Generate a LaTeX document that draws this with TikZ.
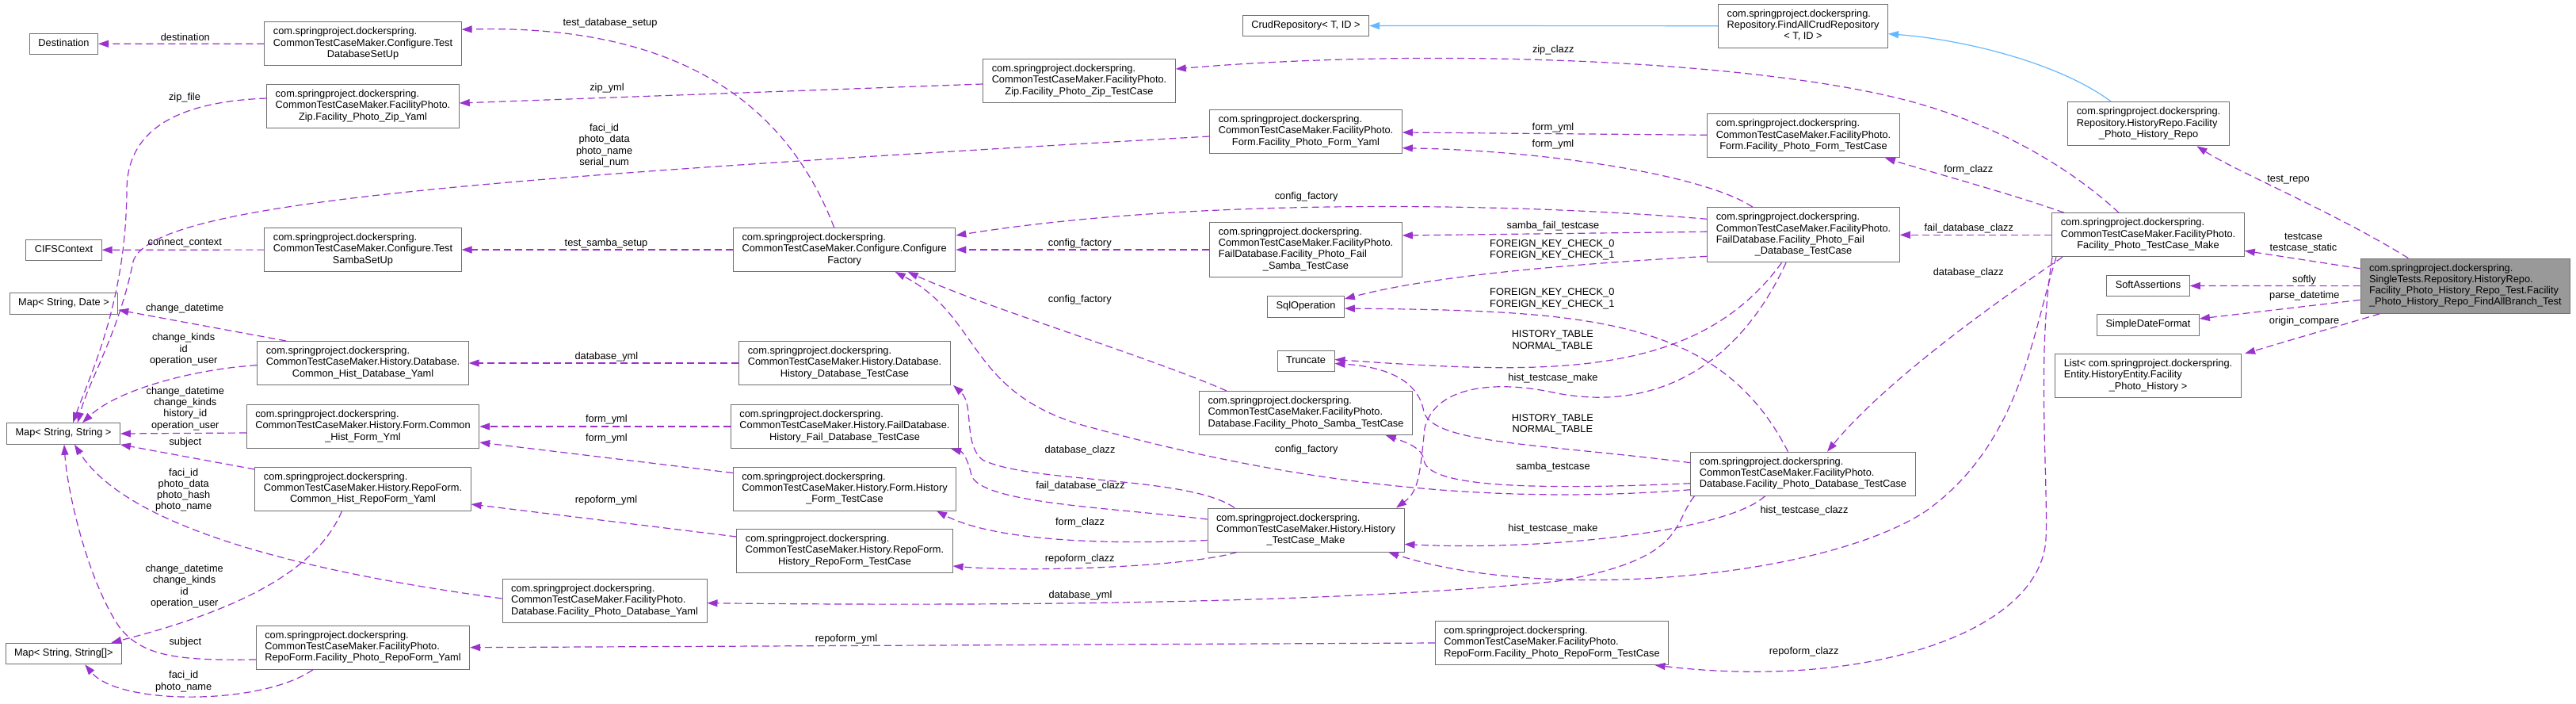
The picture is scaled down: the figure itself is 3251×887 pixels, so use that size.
\documentclass[tikz,border=0pt]{standalone}
\usepackage{fontspec}
\setmainfont{Liberation Sans}
\usepackage{tikz}
\usepackage{xcolor}
\usetikzlibrary{arrows.meta}
\definecolor{depline}{HTML}{9A32CD}
\definecolor{inhline}{HTML}{63B8FF}
\definecolor{boxline}{HTML}{707070}
\definecolor{mainfill}{HTML}{999999}
\newcommand{\diagfont}{\fontsize{12.8}{14.2}\selectfont}
\newcommand{\clsiii}[3]{\begin{tabular}{@{}l@{}}#1\\#2\\\multicolumn{1}{@{}c@{}}{#3}\end{tabular}}
\newcommand{\clsiv}[4]{\begin{tabular}{@{}l@{}}#1\\#2\\#3\\\multicolumn{1}{@{}c@{}}{#4}\end{tabular}}
\newcommand{\pkg}{com.springproject.dockerspring.}

\begin{document}
\begin{tikzpicture}[x=1pt, y=-1pt,
  cls/.style={draw=boxline, line width=1pt, fill=white, inner xsep=11pt, inner ysep=6.2pt, font=\diagfont},
  leaf/.style={cls, execute at begin node=\strut},
  focus/.style={cls, fill=mainfill},
  lbl/.style={font=\diagfont, align=center, inner sep=0pt},
  dep/.style={draw=depline, line width=1.2pt, dash pattern=on 9pt off 5pt, -{Triangle[length=13pt,width=9pt]}},
  inh/.style={draw=inhline, line width=1.2pt, -{Triangle[length=13pt,width=9pt]}}
]
\useasboundingbox (0,0) rectangle (3251,887);

\node[leaf] (dest) at (80.5,55.3) {Destination};
\node[cls] (dbsetup) at (458,55.2) {\clsiii{\pkg}{CommonTestCaseMaker.Configure.Test}{DatabaseSetUp}};
\node[cls] (zipyaml) at (458,134) {\clsiii{\pkg}{CommonTestCaseMaker.FacilityPhoto.}{Zip.Facility\_Photo\_Zip\_Yaml}};
\node[leaf] (cifs) at (80.5,315.3) {CIFSContext};
\node[cls] (sambasetup) at (458,315) {\clsiii{\pkg}{CommonTestCaseMaker.Configure.Test}{SambaSetUp}};
\node[leaf] (mapdate) at (80.5,383) {Map< String, Date >};
\node[cls] (histdbyaml) at (458,458) {\clsiii{\pkg}{CommonTestCaseMaker.History.Database.}{Common\_Hist\_Database\_Yaml}};
\node[cls] (histformyml) at (458,538) {\clsiii{\pkg}{CommonTestCaseMaker.History.Form.Common}{\_Hist\_Form\_Yml}};
\node[leaf] (mapstr) at (80,547) {Map< String, String >};
\node[cls] (histrepoyaml) at (458,616.5) {\clsiii{\pkg}{CommonTestCaseMaker.History.RepoForm.}{Common\_Hist\_RepoForm\_Yaml}};
\node[leaf] (maparr) at (80.3,824.5) {Map< String, String[]>};
\node[cls] (reporyaml) at (458,816.7) {\clsiii{\pkg}{CommonTestCaseMaker.FacilityPhoto.}{RepoForm.Facility\_Photo\_RepoForm\_Yaml}};
\node[cls] (dbyaml) at (763,758) {\clsiii{\pkg}{CommonTestCaseMaker.FacilityPhoto.}{Database.Facility\_Photo\_Database\_Yaml}};

\node[cls] (ziptest) at (1362,102) {\clsiii{\pkg}{CommonTestCaseMaker.FacilityPhoto.}{Zip.Facility\_Photo\_Zip\_TestCase}};
\node[cls] (factory) at (1065.7,315) {\clsiii{\pkg}{CommonTestCaseMaker.Configure.Configure}{Factory}};
\node[cls] (histdbtest) at (1066,458) {\clsiii{\pkg}{CommonTestCaseMaker.History.Database.}{History\_Database\_TestCase}};
\node[cls] (histfailtest) at (1066,538) {\clsiii{\pkg}{CommonTestCaseMaker.History.FailDatabase.}{History\_Fail\_Database\_TestCase}};
\node[cls] (histformtest) at (1066,616.5) {\clsiii{\pkg}{CommonTestCaseMaker.History.Form.History}{\_Form\_TestCase}};
\node[cls] (histrepotest) at (1066,695) {\clsiii{\pkg}{CommonTestCaseMaker.History.RepoForm.}{History\_RepoForm\_TestCase}};

\node[leaf] (crud) at (1648,32.5) {CrudRepository< T, ID >};
\node[cls] (formyaml) at (1648,166) {\clsiii{\pkg}{CommonTestCaseMaker.FacilityPhoto.}{Form.Facility\_Photo\_Form\_Yaml}};
\node[cls] (failsamba) at (1648,315) {\clsiv{\pkg}{CommonTestCaseMaker.FacilityPhoto.}{FailDatabase.Facility\_Photo\_Fail}{\_Samba\_TestCase}};
\node[leaf] (sqlop) at (1648,387) {SqlOperation};
\node[leaf] (truncate) at (1648,455.5) {Truncate};
\node[cls] (sambatest) at (1648,521) {\clsiii{\pkg}{CommonTestCaseMaker.FacilityPhoto.}{Database.Facility\_Photo\_Samba\_TestCase}};
\node[cls] (histmake) at (1648,668.5) {\clsiii{\pkg}{CommonTestCaseMaker.History.History}{\_TestCase\_Make}};
\node[cls] (repotest) at (1958.5,811) {\clsiii{\pkg}{CommonTestCaseMaker.FacilityPhoto.}{RepoForm.Facility\_Photo\_RepoForm\_TestCase}};

\node[cls] (findall) at (2275.5,32.7) {\clsiii{\pkg}{Repository.FindAllCrudRepository}{< T, ID >}};
\node[cls] (formtest) at (2276,171.3) {\clsiii{\pkg}{CommonTestCaseMaker.FacilityPhoto.}{Form.Facility\_Photo\_Form\_TestCase}};
\node[cls] (faildbtest) at (2276,296.3) {\clsiv{\pkg}{CommonTestCaseMaker.FacilityPhoto.}{FailDatabase.Facility\_Photo\_Fail}{\_Database\_TestCase}};
\node[cls] (dbtest) at (2275.5,597.7) {\clsiii{\pkg}{CommonTestCaseMaker.FacilityPhoto.}{Database.Facility\_Photo\_Database\_TestCase}};

\node[cls] (historyrepo) at (2711.5,156.3) {\clsiii{\pkg}{Repository.HistoryRepo.Facility}{\_Photo\_History\_Repo}};
\node[cls] (testmake) at (2711,296.3) {\clsiii{\pkg}{CommonTestCaseMaker.FacilityPhoto.}{Facility\_Photo\_TestCase\_Make}};
\node[leaf] (softly) at (2711,360.5) {SoftAssertions};
\node[leaf] (dateformat) at (2711,410) {SimpleDateFormat};
\node[cls] (originlist) at (2711,474) {\clsiii{List< \pkg}{Entity.HistoryEntity.Facility}{\_Photo\_History >}};
\node[focus] (main) at (3111.3,360.7) {\clsiv{\pkg}{SingleTests.Repository.HistoryRepo.}{Facility\_Photo\_History\_Repo\_Test.Facility}{\_Photo\_History\_Repo\_FindAllBranch\_Test}};

\draw[dep] (dbsetup) -- (dest);
\draw[dep] ([xshift=-13pt]factory.north) .. controls (1000,150) and (880,30) .. ([yshift=18pt]dbsetup.east);
\draw[dep] ([yshift=-4pt]ziptest.west) -- ([yshift=4pt]zipyaml.east);
\draw[dep] ([yshift=10pt]zipyaml.west) .. controls (230,128) and (160,160) .. (160,240) .. controls (159,380) and (115,470) .. ([xshift=12pt]mapstr.north);
\draw[dep] ([yshift=-6pt]formyaml.west) .. controls (600,225) and (190,255) .. (168,330) .. controls (150,420) and (112,480) .. ([xshift=18pt]mapstr.north);
\draw[dep] (sambasetup) -- (cifs);
\draw[dep] (factory) -- (sambasetup);
\draw[dep] (failsamba) -- (factory);
\draw[dep] ([yshift=20pt]faildbtest.west) .. controls (1900,255) and (1500,250) .. ([yshift=18pt]factory.east);
\draw[dep] ([yshift=1pt]formtest.west) -- ([yshift=-1pt]formyaml.east);
\draw[dep] ([xshift=-64pt]faildbtest.north) .. controls (2150,220) and (1950,190) .. ([yshift=-20.7pt]formyaml.east);
\draw[dep] ([yshift=4pt]faildbtest.west) -- ([yshift=18pt]failsamba.east);
\draw[dep] ([yshift=-27pt]faildbtest.west) .. controls (1950,335) and (1800,350) .. ([yshift=10pt]sqlop.east);
\draw[dep] ([xshift=-19pt]dbtest.north) .. controls (2170,400) and (2000,392) .. ([yshift=-2pt]sqlop.east);
\draw[dep] ([xshift=-27.5pt]faildbtest.south) .. controls (2140,480) and (1950,472) .. ([yshift=2pt]truncate.east);
\draw[dep] ([yshift=14pt]dbtest.west) .. controls (1950,560) and (1810,560) .. (1797,520) .. controls (1790,475) and (1740,462) .. ([yshift=-3pt]truncate.east);
\draw[dep] ([yshift=-12pt]dbtest.west) .. controls (1900,620) and (1800,610) .. (1797,580) .. controls (1795,565) and (1775,558) .. ([xshift=100.7pt]sambatest.south);
\draw[dep] ([xshift=-48pt]dbtest.south) .. controls (2180,670) and (1950,695) .. ([yshift=-18pt]histmake.east);
\draw[dep] ([xshift=-22pt]faildbtest.south) .. controls (2190,470) and (2080,520) .. (1960,495) .. controls (1880,478) and (1810,490) .. (1798,540) .. controls (1792,600) and (1790,620) .. ([xshift=114pt]histmake.north);
\draw[dep] ([xshift=-116pt]testmake.south) .. controls (2565,420) and (2550,560) .. (2430,645) .. controls (2300,730) and (1950,760) .. ([xshift=104pt]histmake.south);
\draw[dep] ([xshift=-121pt]testmake.south) .. controls (2570,450) and (2585,600) .. (2582,680) .. controls (2575,800) and (2350,870) .. ([xshift=130pt]repotest.south);
\draw[dep] ([xshift=-108pt]testmake.south) .. controls (2520,380) and (2380,480) .. ([xshift=30.5pt]dbtest.north);
\draw[dep] ([xshift=-37pt]testmake.north) .. controls (2600,200) and (2500,150) .. (2400,125) .. controls (2200,75) and (1800,60) .. ([yshift=15pt]ziptest.east);
\draw[dep] ([xshift=-106pt]testmake.north) .. controls (2540,245) and (2430,215) .. ([xshift=103pt]formtest.south);
\draw[dep] (testmake) -- (faildbtest);
\draw[inh] (findall) -- (crud);
\draw[inh] ([xshift=-47pt]historyrepo.north) .. controls (2600,80) and (2480,50) .. ([yshift=-10pt]findall.east);
\draw[dep] ([xshift=-72pt]main.north) .. controls (2950,270) and (2820,215) .. ([xshift=61pt]historyrepo.south);
\draw[dep] ([yshift=22pt]main.west) -- ([yshift=-20pt]testmake.east);
\draw[dep] (main) -- (softly);
\draw[dep] ([yshift=-17.6pt]main.west) -- ([yshift=8pt]dateformat.east);
\draw[dep] ([xshift=-108pt]main.south) -- ([xshift=122pt]originlist.north);

\draw[dep] (histdbtest) -- (histdbyaml);
\draw[dep] (histfailtest) -- (histformyml);
\draw[dep] ([yshift=20pt]histformtest.west) -- ([yshift=-20pt]histformyml.east);
\draw[dep] ([yshift=18pt]histrepotest.west) -- ([yshift=-19.5pt]histrepoyaml.east);
\draw[dep] ([xshift=-87pt]histmake.south) .. controls (1500,715) and (1300,722) .. ([yshift=-19pt]histrepotest.east);
\draw[dep] ([yshift=-13pt]histmake.west) .. controls (1380,688) and (1250,680) .. ([xshift=116pt]histformtest.south);
\draw[dep] ([yshift=13.5pt]histmake.west) .. controls (1400,640) and (1240,635) .. (1226,600) .. controls (1222,580) and (1215,570) .. ([xshift=134pt]histfailtest.south);
\draw[dep] ([xshift=-90pt]histmake.north) .. controls (1500,600) and (1300,610) .. (1240,580) .. controls (1215,560) and (1230,510) .. ([xshift=137pt]histdbtest.south);
\draw[dep] ([yshift=-20pt]dbtest.west) .. controls (1850,640) and (1600,600) .. (1380,540) .. controls (1220,500) and (1240,400) .. ([xshift=64pt]factory.south);
\draw[dep] ([xshift=-100pt]sambatest.north) .. controls (1450,450) and (1250,390) .. ([xshift=80pt]factory.south);
\draw[dep] ([xshift=-137pt]dbtest.south) .. controls (2110,660) and (2130,705) .. (1966,733) .. controls (1700,760) and (1300,765) .. ([yshift=-2.7pt]dbyaml.east);
\draw[dep] (repotest.west) -- (reporyaml.east);
\draw[dep] ([xshift=-97pt]histdbyaml.north) -- ([yshift=-8pt]mapdate.east);
\draw[dep] ([yshift=-2.7pt]histdbyaml.west) .. controls (250,465) and (150,490) .. ([xshift=24pt]mapstr.north);
\draw[dep] ([yshift=-8pt]histformyml.west) -- (mapstr.east);
\draw[dep] ([yshift=24.5pt]histrepoyaml.west) -- (mapstr.south east);
\draw[dep] ([xshift=-26.5pt]histrepoyaml.south) .. controls (400,720) and (300,770) .. ([xshift=60pt]maparr.north);
\draw[dep] ([xshift=-63pt]reporyaml.south) .. controls (330,890) and (150,890) .. ([xshift=27pt]maparr.south);
\draw[dep] ([yshift=-15.3pt]reporyaml.west) .. controls (230,833) and (180,830) .. (150,790) .. controls (110,730) and (85,620) .. ([xshift=1pt]mapstr.south);
\draw[dep] ([yshift=3pt]dbyaml.west) .. controls (450,730) and (170,680) .. ([xshift=14pt]mapstr.south);

\node[lbl] (l1) at (233.8,46.7) {destination};
\node[lbl] (l2) at (770,29) {test\_database\_setup};
\node[lbl] (l3) at (766,111) {zip\_yml};
\node[lbl] (l4) at (233,122.7) {zip\_file};
\node[lbl] (l5) at (762.6,183.7) {faci\_id\\photo\_data\\photo\_name\\serial\_num};
\node[lbl] (l6) at (233.3,306.7) {connect\_context};
\node[lbl] (l7) at (765,306.7) {test\_samba\_setup};
\node[lbl] (l8) at (233.2,388.7) {change\_datetime};
\node[lbl] (l9) at (231.7,440.7) {change\_kinds\\id\\operation\_user};
\node[lbl] (l10) at (765.4,450) {database\_yml};
\node[lbl] (l11) at (233.8,515.5) {change\_datetime\\change\_kinds\\history\_id\\operation\_user};
\node[lbl] (l12) at (765.4,529.3) {form\_yml};
\node[lbl] (l13) at (765.4,552.7) {form\_yml};
\node[lbl] (l14) at (233.8,558.3) {subject};
\node[lbl] (l15) at (231.7,618.3) {faci\_id\\photo\_data\\photo\_hash\\photo\_name};
\node[lbl] (l16) at (765,630.7) {repoform\_yml};
\node[lbl] (l17) at (232.7,739.7) {change\_datetime\\change\_kinds\\id\\operation\_user};
\node[lbl] (l18) at (233.8,810) {subject};
\node[lbl] (l19) at (231.7,859.7) {faci\_id\\photo\_name};
\node[lbl] (l20) at (1362.8,306.7) {config\_factory};
\node[lbl] (l21) at (1362.8,377.7) {config\_factory};
\node[lbl] (l22) at (1363,568.3) {database\_clazz};
\node[lbl] (l23) at (1363.5,613.3) {fail\_database\_clazz};
\node[lbl] (l24) at (1363,659) {form\_clazz};
\node[lbl] (l25) at (1362.7,705) {repoform\_clazz};
\node[lbl] (l26) at (1363.5,750.7) {database\_yml};
\node[lbl] (l27) at (1068,806) {repoform\_yml};
\node[lbl] (l28) at (1960.3,62.7) {zip\_clazz};
\node[lbl] (l29) at (1960,160.7) {form\_yml};
\node[lbl] (l30) at (1960,181.7) {form\_yml};
\node[lbl] (l31) at (1648.6,248.3) {config\_factory};
\node[lbl] (l32) at (1960,285) {samba\_fail\_testcase};
\node[lbl] (l33) at (1958.8,315.3) {FOREIGN\_KEY\_CHECK\_0\\FOREIGN\_KEY\_CHECK\_1};
\node[lbl] (l34) at (1958.8,376.8) {FOREIGN\_KEY\_CHECK\_0\\FOREIGN\_KEY\_CHECK\_1};
\node[lbl] (l35) at (1959.3,429.8) {HISTORY\_TABLE\\NORMAL\_TABLE};
\node[lbl] (l36) at (1960,476.7) {hist\_testcase\_make};
\node[lbl] (l37) at (1959.3,535.3) {HISTORY\_TABLE\\NORMAL\_TABLE};
\node[lbl] (l38) at (1648.6,566.7) {config\_factory};
\node[lbl] (l39) at (1960,589) {samba\_testcase};
\node[lbl] (l40) at (1960,666.7) {hist\_testcase\_make};
\node[lbl] (l41) at (2277,644.3) {hist\_testcase\_clazz};
\node[lbl] (l42) at (2276.7,821.7) {repoform\_clazz};
\node[lbl] (l43) at (2484.3,214.3) {form\_clazz};
\node[lbl] (l44) at (2888,226.7) {test\_repo};
\node[lbl] (l45) at (2484.8,288.3) {fail\_database\_clazz};
\node[lbl] (l46) at (2907,306.5) {testcase\\testcase\_static};
\node[lbl] (l47) at (2484.3,344.3) {database\_clazz};
\node[lbl] (l48) at (2908,352.7) {softly};
\node[lbl] (l49) at (2908.3,372.7) {parse\_datetime};
\node[lbl] (l50) at (2908,405) {origin\_compare};

\end{tikzpicture}
\end{document}
